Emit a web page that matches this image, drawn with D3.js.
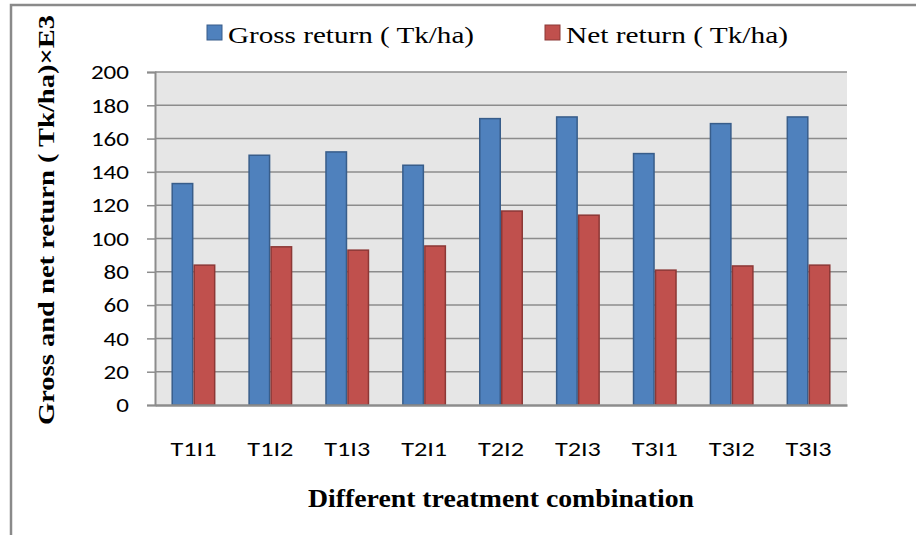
<!DOCTYPE html>
<html>
<head>
<meta charset="utf-8">
<script src="https://cdn.jsdelivr.net/npm/d3@7"></script>
<style>
  html, body { margin: 0; padding: 0; background: #fff; }
  svg { display: block; }
</style>
</head>
<body>
<svg id="chart" width="916" height="535"></svg>
<script>
// Treatment combinations and returns (thousand Tk/ha)
const categories = ["T1I1", "T1I2", "T1I3", "T2I1", "T2I2", "T2I3", "T3I1", "T3I2", "T3I3"];
const seriesNames = ["Gross return ( Tk/ha)", "Net return ( Tk/ha)"];
const grossReturn = [133, 150, 152, 144, 172, 173, 151, 169, 173];
const netReturn = [84, 95, 93, 95.5, 116.5, 114, 81, 83.5, 84];
const yTicks = [0, 20, 40, 60, 80, 100, 120, 140, 160, 180, 200];
const seriesColors = ["#4F81BD", "#C0504D"];
const seriesStrokes = ["#385D8A", "#8C3836"];

const serif = '"Liberation Serif", "Times New Roman", serif';
const sans = '"Carlito", "Open Sans", sans-serif';

const svg = d3.select("#chart");
const plot = { left: 155, right: 847, top: 72, bottom: 405 };

// Outer chart frame
svg.append("rect")
  .attr("x", 11).attr("y", 5).attr("width", 920).attr("height", 545)
  .attr("fill", "none").attr("stroke", "#8a8a8a").attr("stroke-width", 2.5);

const x0 = d3.scaleBand().domain(categories)
  .range([plot.left, plot.right]).paddingInner(0.428).paddingOuter(0.214);
const x1 = d3.scaleBand().domain(seriesNames).range([0, x0.bandwidth()]);
const y = d3.scaleLinear().domain([0, 200]).range([plot.bottom, plot.top]);

// Plot background
svg.append("rect")
  .attr("x", plot.left).attr("y", plot.top)
  .attr("width", plot.right - plot.left).attr("height", plot.bottom - plot.top)
  .attr("fill", "#E6E6E6");

// Horizontal gridlines
svg.append("g").selectAll("line").data(yTicks.filter(d => d > 0)).join("line")
  .attr("x1", plot.left).attr("x2", plot.right)
  .attr("y1", d => y(d)).attr("y2", d => y(d))
  .attr("stroke", "#8c8c8c").attr("stroke-width", 1.5);

// Y axis
const yAxis = svg.append("g")
  .attr("transform", `translate(${plot.left},0)`)
  .call(d3.axisLeft(y).tickValues(yTicks).tickSize(8).tickPadding(18));
yAxis.select(".domain").attr("stroke", "#8c8c8c").attr("stroke-width", 2);
yAxis.selectAll(".tick line").attr("stroke", "#8c8c8c").attr("stroke-width", 1.5);
yAxis.selectAll(".tick text")
  .style("font-family", sans).style("font-size", "21px")
  .attr("textLength", d => String(d).length * 12.7).attr("lengthAdjust", "spacingAndGlyphs")
  .attr("fill", "#000");

// Bars
const rows = categories.map((c, i) => ({ cat: c, vals: [grossReturn[i], netReturn[i]] }));
const groups = svg.append("g").selectAll("g").data(rows).join("g")
  .attr("transform", d => `translate(${x0(d.cat)},0)`);
groups.selectAll("rect")
  .data(d => d.vals.map((v, k) => ({ name: seriesNames[k], k, v })))
  .join("rect")
  .attr("x", d => x1(d.name) + 0.75)
  .attr("width", x1.bandwidth() - 1.5)
  .attr("y", d => y(d.v))
  .attr("height", d => y(0) - y(d.v))
  .attr("fill", d => seriesColors[d.k])
  .attr("stroke", d => seriesStrokes[d.k])
  .attr("stroke-width", 1.5);

// X axis baseline and category labels
const xAxis = svg.append("g")
  .attr("transform", `translate(0,${plot.bottom})`)
  .call(d3.axisBottom(x0).tickSize(0).tickPadding(36));
xAxis.select(".domain").attr("stroke", "#8c8c8c").attr("stroke-width", 2.5);
xAxis.selectAll(".tick text")
  .style("font-family", sans).style("font-size", "21px")
  .attr("textLength", 46).attr("lengthAdjust", "spacingAndGlyphs")
  .attr("fill", "#000");

// Axis titles
svg.append("text")
  .attr("x", 501).attr("y", 507)
  .attr("text-anchor", "middle")
  .style("font-family", serif)
  .style("font-weight", "bold").style("font-size", "25px")
  .attr("textLength", 386).attr("lengthAdjust", "spacingAndGlyphs")
  .text("Different treatment combination");

svg.append("text")
  .attr("transform", "translate(54,220) rotate(-90)")
  .attr("text-anchor", "middle")
  .style("font-family", serif)
  .style("font-weight", "bold").style("font-size", "24px")
  .attr("textLength", 410).attr("lengthAdjust", "spacingAndGlyphs")
  .text("Gross and net return ( Tk/ha)×E3");

// Legend
const legendX = [207, 545];
const legendLen = [246, 222];
const legend = svg.append("g").selectAll("g").data(seriesNames).join("g")
  .attr("transform", (d, i) => `translate(${legendX[i]},25)`);
legend.append("rect")
  .attr("width", 15).attr("height", 15)
  .attr("fill", (d, i) => seriesColors[i])
  .attr("stroke", (d, i) => seriesStrokes[i]).attr("stroke-width", 1);
legend.append("text")
  .attr("x", 21).attr("y", 17.5)
  .style("font-family", serif)
  .style("font-size", "24px")
  .attr("textLength", (d, i) => legendLen[i]).attr("lengthAdjust", "spacingAndGlyphs")
  .text(d => d);
</script>
</body>
</html>
